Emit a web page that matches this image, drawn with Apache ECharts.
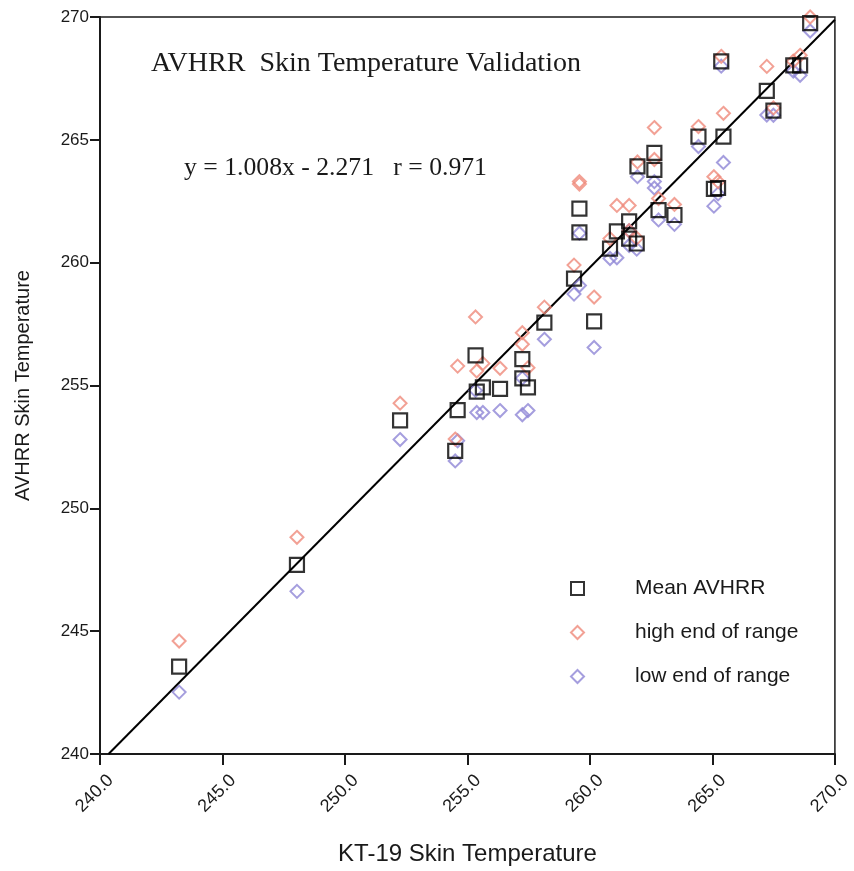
<!DOCTYPE html>
<html>
<head>
<meta charset="utf-8">
<script src="https://cdn.jsdelivr.net/npm/echarts@6/dist/echarts.min.js"></script>
<style>
  html, body { margin: 0; padding: 0; background: #fff; }
  #chart { width: 854px; height: 871px; }
</style>
</head>
<body>
<div id="chart"></div>
<script>
// KT-19 (in situ) skin temperature for each matched scene
var kt19 = [
  243.23, 248.04, 252.25, 254.50, 254.60, 255.33, 255.38, 255.63, 256.33,
  257.24, 257.24, 257.47, 258.14, 259.35, 259.57, 259.57, 260.17, 260.82,
  261.10, 261.60, 261.60, 261.91, 261.94, 262.63, 262.63, 262.80, 263.45,
  264.43, 265.06, 265.23, 265.36, 265.45, 267.22, 267.49, 268.30, 268.58,
  268.99
];
// Mean AVHRR skin temperature
var avhrrMean = [
  243.56, 247.70, 253.58, 252.34, 254.00, 256.23, 254.75, 254.92, 254.86,
  256.07, 255.29, 254.92, 257.56, 259.35, 262.20, 261.23, 257.61, 260.57,
  261.27, 261.68, 260.98, 260.78, 263.92, 264.47, 263.78, 262.14, 261.94,
  265.13, 263.00, 263.04, 268.19, 265.13, 266.99, 266.19, 268.03, 268.03,
  269.75
];
// High end of the AVHRR range
var avhrrHigh = [
  244.60, 248.82, 254.28, 252.82, 255.79, 257.79, 255.59, 255.90, 255.70,
  257.15, 256.68, 255.72, 258.19, 259.90, 263.30, 263.20, 258.60, 260.98,
  262.33, 262.33, 261.30, 261.00, 264.10, 265.50, 264.20, 262.61, 262.37,
  265.54, 263.50, 263.30, 268.40, 266.08, 267.99, 266.30, 268.20, 268.44,
  270.00
];
// Low end of the AVHRR range
var avhrrLow = [
  242.52, 246.62, 252.80, 251.93, 252.75, 254.80, 253.90, 253.90, 253.98,
  255.30, 253.81, 253.98, 256.88, 258.72, 261.20, 259.07, 256.55, 260.17,
  260.20, 261.30, 260.70, 260.55, 263.50, 263.30, 263.04, 261.74, 261.56,
  264.73, 262.30, 262.80, 268.00, 264.08, 266.01, 266.00, 267.80, 267.63,
  269.43
];

// Least-squares fit reported on the chart
var fitSlope = 1.008;
var fitIntercept = -2.271;
var axisMin = 240, axisMax = 270, axisStep = 5;

function pairs(xs, ys) {
  return xs.map(function (x, i) { return [x, ys[i]]; });
}
// Fit line clipped to the plotting box
var fitStartX = (axisMin - fitIntercept) / fitSlope;
var fitLine = [
  [fitStartX, fitSlope * fitStartX + fitIntercept],
  [axisMax, fitSlope * axisMax + fitIntercept]
];

var ink = '#1a1a1a';
var redCol = '#ef8a7a';
var blueCol = '#8f86d6';
var sansFont = '"Liberation Sans", Arial, Helvetica, sans-serif';
var serifFont = '"Liberation Serif", "Times New Roman", serif';

var chart = echarts.init(document.getElementById('chart'), null, { renderer: 'canvas' });
chart.setOption({
  backgroundColor: '#fff',
  animation: false,
  title: [
    {
      text: 'AVHRR  Skin Temperature Validation',
      left: 146, top: 45,
      textStyle: { fontFamily: serifFont, fontSize: 28, fontWeight: 'normal', color: ink }
    },
    {
      text: 'y = 1.008x - 2.271   r = 0.971',
      left: 179, top: 150,
      textStyle: { fontFamily: serifFont, fontSize: 25.7, fontWeight: 'normal', color: ink }
    }
  ],
  legend: {
    orient: 'vertical',
    left: 565, top: 573,
    itemGap: 23,
    itemWidth: 13, itemHeight: 13,
    selectedMode: false,
    data: ['Mean AVHRR', 'high end of range', 'low end of range'],
    textStyle: {
      fontFamily: sansFont, fontSize: 21, lineHeight: 20, color: ink,
      padding: [0, 0, 0, 46]
    }
  },
  grid: {
    left: 100, right: 19, top: 17, bottom: 113,
    show: true, borderColor: ink, borderWidth: 1.5, backgroundColor: 'transparent'
  },
  xAxis: {
    type: 'value', min: axisMin, max: axisMax, interval: axisStep,
    name: 'KT-19 Skin Temperature',
    nameLocation: 'middle', nameGap: 88,
    nameTextStyle: { fontFamily: sansFont, fontSize: 24, color: ink },
    axisLine: { show: true, lineStyle: { color: ink, width: 2 } },
    axisTick: { show: true, length: 11, lineStyle: { color: ink, width: 2 } },
    axisLabel: {
      rotate: 45, margin: 13, fontFamily: sansFont, fontSize: 18, color: ink,
      verticalAlign: 'top', padding: [6, 0, 0, 0],
      formatter: function (v) { return v.toFixed(1); }
    },
    splitLine: { show: false }
  },
  yAxis: {
    type: 'value', min: axisMin, max: axisMax, interval: axisStep,
    name: 'AVHRR Skin Temperature',
    nameLocation: 'middle', nameGap: 67,
    nameTextStyle: { fontFamily: sansFont, fontSize: 20, color: ink },
    axisLine: { show: true, lineStyle: { color: ink, width: 2 } },
    axisTick: { show: true, length: 10, lineStyle: { color: ink, width: 2 } },
    axisLabel: { margin: 11, fontFamily: sansFont, fontSize: 17, color: ink },
    splitLine: { show: false }
  },
  series: [
    {
      name: 'fit', type: 'line', data: fitLine,
      symbol: 'none', silent: true, z: 1,
      lineStyle: { color: '#000', width: 2 }
    },
    {
      name: 'low end of range', type: 'scatter', z: 2,
      data: pairs(kt19, avhrrLow),
      symbol: 'diamond', symbolSize: 13,
      itemStyle: { color: 'rgba(255,255,255,0)', borderColor: blueCol, borderWidth: 2 }
    },
    {
      name: 'high end of range', type: 'scatter', z: 3,
      data: pairs(kt19, avhrrHigh),
      symbol: 'diamond', symbolSize: 13,
      itemStyle: { color: 'rgba(255,255,255,0)', borderColor: redCol, borderWidth: 2 }
    },
    {
      name: 'Mean AVHRR', type: 'scatter', z: 4,
      data: pairs(kt19, avhrrMean),
      symbol: 'rect', symbolSize: 14,
      itemStyle: { color: 'rgba(255,255,255,0)', borderColor: '#000', borderWidth: 2.2 }
    }
  ]
});
</script>
</body>
</html>
